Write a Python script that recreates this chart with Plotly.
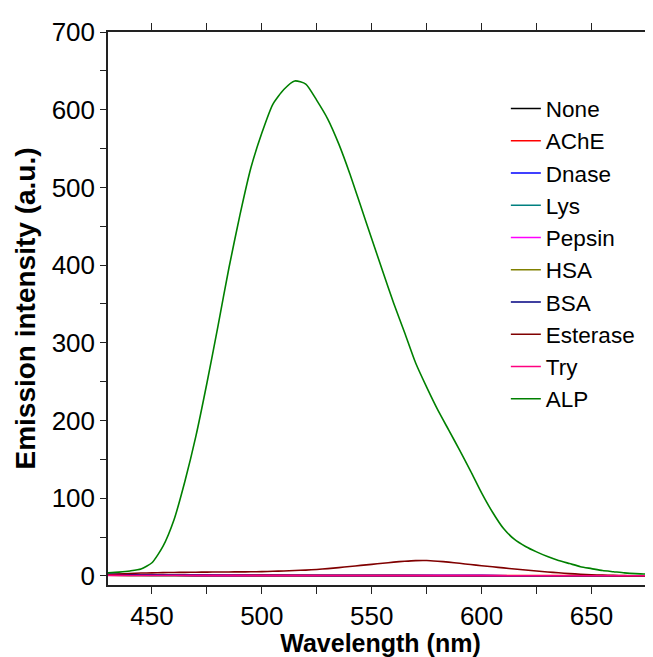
import plotly.graph_objects as go

# ---- data ----
wl_alp = [430, 435, 440, 445, 450, 455, 460, 465, 470, 475, 480, 485, 490, 495, 500,
          505, 510, 515, 520, 525, 530, 535, 540, 545, 550, 555, 560, 565, 570, 575,
          580, 585, 590, 595, 600, 605, 610, 615, 620, 625, 630, 635, 640, 645, 650,
          655, 660, 665, 670, 675, 680]
alp = [4, 5, 6.5, 9, 17, 38, 72, 122, 180, 248, 321, 396, 464, 525, 570,
       607, 626, 637, 633, 612, 588, 556, 518, 476, 434, 392, 351, 313, 274, 243,
       214, 188, 162, 135, 107, 82, 61, 47, 38, 31, 25, 20, 16, 12, 9.5,
       7, 5.5, 4, 3, 2.5, 2]
esterase = [1.5, 2.5, 3.2, 3.8, 4.0, 4.3, 4.5, 4.7, 4.9, 5.0, 5.1, 5.2, 5.3, 5.4, 5.6,
            6.0, 6.5, 7.0, 7.6, 8.4, 9.5, 10.8, 12.2, 13.6, 15.0, 16.4, 17.8, 19.0, 19.8, 19.9,
            19.0, 17.8, 16.3, 14.7, 13.2, 11.8, 10.4, 9.0, 7.7, 6.4, 5.2, 4.1, 3.1, 2.3, 1.6,
            1.1, 0.8, 0.5, 0.3, 0.2, 0.1]

wl_low = [430, 440, 450, 470, 500, 530, 560, 600, 640, 680]
none = [1.0, 0.8, 0.6, 0.5, 0.4, 0.3, 0.3, 0.2, 0.1, 0.0]
ache = [1.5, 1.4, 1.3, 1.5, 1.6, 1.0, 0.8, 0.6, 0.4, 0.2]
dnase = [2.5, 1.8, 1.2, 0.9, 0.7, 0.6, 0.5, 0.4, 0.3, 0.2]
lys = [1.2, 1.0, 0.8, 0.6, 0.5, 0.4, 0.4, 0.3, 0.2, 0.1]
pepsin = [2.0, 1.6, 1.2, 0.9, 0.7, 0.6, 0.5, 0.4, 0.3, 0.2]
hsa = [1.0, 0.8, 0.7, 0.6, 0.5, 0.4, 0.4, 0.3, 0.2, 0.1]
bsa = [1.8, 1.5, 1.1, 0.8, 0.6, 0.5, 0.5, 0.4, 0.3, 0.2]
tryp = [0.8, 0.7, 0.6, 0.5, 0.5, 0.4, 0.4, 0.4, 0.3, 0.3]

names = ["None", "AChE", "Dnase", "Lys", "Pepsin", "HSA", "BSA", "Esterase", "Try", "ALP"]
colors = ["#000000", "#FF0000", "#0000FF", "#008080", "#FF00FF", "#808000",
          "#000080", "#800000", "#FF0080", "#008000"]
series = [(wl_low, none), (wl_low, ache), (wl_low, dnase), (wl_low, lys), (wl_low, pepsin),
          (wl_low, hsa), (wl_low, bsa), (wl_alp, esterase), (wl_low, tryp), (wl_alp, alp)]

x_ticks = [450, 500, 550, 600, 650]
y_ticks = [0, 100, 200, 300, 400, 500, 600, 700]

FONT = "Arial, 'Liberation Sans', sans-serif"

fig = go.Figure()
for name, color, (xs, ys) in zip(names, colors, series):
    fig.add_trace(go.Scatter(x=xs, y=ys, name=name, mode="lines",
                             line=dict(color=color, width=1.6, shape="spline", smoothing=0.6)))

axis_common = dict(showline=True, linecolor="#222", linewidth=1.5, showgrid=False,
                   zeroline=False, ticks="outside", tickcolor="#222", tickwidth=1.2,
                   automargin=False,
                   tickfont=dict(family=FONT, size=26, color="black"))

# page body has an 8px default margin, so the figure is sized/offset to compensate
fig.update_layout(
    width=645, height=649, autosize=False,
    margin=dict(l=100, r=0, t=24, b=72),
    paper_bgcolor="white", plot_bgcolor="white",
    font=dict(family=FONT, color="black"),
    xaxis=dict(range=[430, 678], tickvals=x_ticks, ticklen=7, mirror="ticks",
               minor=dict(dtick=25, tick0=425, ticks="outside", ticklen=7, tickcolor="#222"),
               title=dict(text="<b>Wavelength (nm)</b>", font=dict(family=FONT, size=25),
                          standoff=8),
               **axis_common),
    yaxis=dict(range=[-11.6, 700], tickvals=y_ticks, ticklen=6,
               minor=dict(dtick=50, tick0=0, ticks="outside", ticklen=6, tickcolor="#222"),
               title=dict(text="<b>Emission intensity (a.u.)</b>", font=dict(family=FONT, size=28),
                          standoff=8),
               **axis_common),
    legend=dict(x=0.73, y=0.90, xanchor="left", yanchor="top",
                font=dict(family=FONT, size=22.5, color="black"),
                bgcolor="rgba(0,0,0,0)", tracegroupgap=0),
    showlegend=True,
)

fig.write_html("out.html")
